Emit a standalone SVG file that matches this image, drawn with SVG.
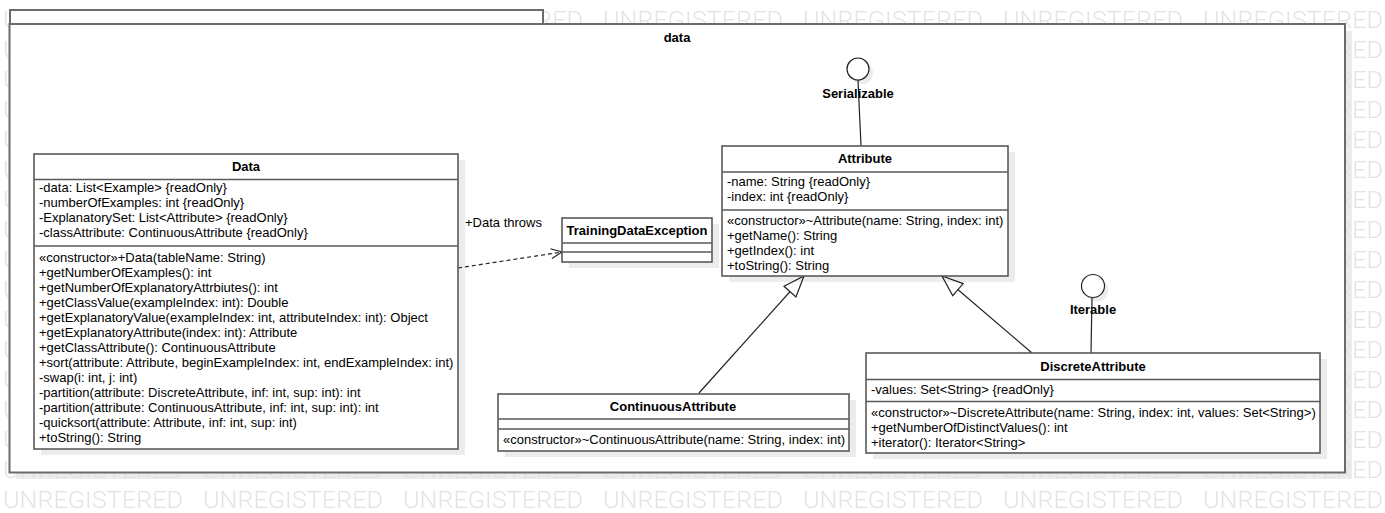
<svg xmlns="http://www.w3.org/2000/svg" width="1385" height="513" viewBox="0 0 1385 513">
<style>
  text { font-family: "Liberation Sans", Arial, sans-serif; fill: #000; }
  .t { font-size: 13px; }
  .b { font-size: 13px; font-weight: bold; text-anchor: middle; }
  .box { fill: #fff; stroke: #5a5a5a; stroke-width: 1.6; }
  .div { stroke: #5a5a5a; stroke-width: 1.6; }
  .sh { fill: #000; fill-opacity: 0.075; }
  .wm { font-family: "Roboto", "Liberation Sans", sans-serif; font-weight: 300; font-size: 23px; fill: #e3e3e3; }
  .conn { stroke: #222; stroke-width: 1.2; fill: none; }
</style>
<defs>
  <pattern id="wmp" patternUnits="userSpaceOnUse" x="0" y="0" width="200" height="30">
    <text class="wm" x="3" y="28" textLength="180" lengthAdjust="spacingAndGlyphs">UNREGISTERED</text>
  </pattern>
  <marker id="gen" markerUnits="userSpaceOnUse" markerWidth="24" markerHeight="20" viewBox="0 0 24 20" refX="22" refY="9" orient="auto">
    <path d="M1,1 L22,9 L1,17 Z" fill="#fff" stroke="#222" stroke-width="1.2"/>
  </marker>
  <marker id="open" markerUnits="userSpaceOnUse" markerWidth="14" markerHeight="12" viewBox="0 0 14 12" refX="12" refY="6" orient="auto">
    <path d="M1,1 L12,6 L1,11" fill="none" stroke="#222" stroke-width="1.2"/>
  </marker>
</defs>
<rect x="0" y="0" width="1385" height="513" fill="#fff"/>

<g id="package-data">
  <rect class="sh" x="16" y="31" width="1336" height="448"/>
  <rect x="0" y="0" width="1385" height="513" fill="url(#wmp)"/>
  <rect x="10" y="10" width="533" height="14" fill="#fff" stroke="#6b6b6b" stroke-width="2"/>
  <rect x="9.5" y="24" width="1335.5" height="448.5" fill="#fff" stroke="#6b6b6b" stroke-width="2"/>
  <text class="b" x="677" y="42">data</text>
</g>

<g id="connectors">
  <line class="conn" x1="858" y1="80" x2="861" y2="146"/>
  <line class="conn" x1="1092" y1="298" x2="1091" y2="353"/>
  <line class="conn" x1="699" y1="393" x2="804" y2="276" marker-end="url(#gen)"/>
  <line class="conn" x1="1032" y1="353" x2="942" y2="276" marker-end="url(#gen)"/>
  <line class="conn" x1="458" y1="268" x2="562" y2="252" stroke-dasharray="4,3" marker-end="url(#open)"/>
  <text class="t" x="465" y="227">+Data throws</text>
</g>

<g id="serializable">
  <circle cx="862" cy="73" r="11" fill="#000" fill-opacity="0.075"/>
  <circle cx="858" cy="69" r="11" fill="#fff" stroke="#222" stroke-width="1.2"/>
  <text class="b" x="858" y="98">Serializable</text>
</g>

<g id="iterable">
  <circle cx="1097" cy="290" r="11.5" fill="#000" fill-opacity="0.075"/>
  <circle cx="1093" cy="286" r="11.5" fill="#fff" stroke="#222" stroke-width="1.2"/>
  <text class="b" x="1093" y="314">Iterable</text>
</g>

<g id="Data">
  <rect class="sh" x="41" y="160" width="424" height="295"/>
  <rect class="box" x="34" y="154" width="424" height="295"/>
  <line class="div" x1="34" y1="179.5" x2="458" y2="179.5"/>
  <line class="div" x1="34" y1="246" x2="458" y2="246"/>
  <text class="b" x="246" y="171">Data</text>
  <text class="t" x="39" y="192">-data: List&lt;Example&gt; {readOnly}</text>
  <text class="t" x="39" y="207">-numberOfExamples: int {readOnly}</text>
  <text class="t" x="39" y="222">-ExplanatorySet: List&lt;Attribute&gt; {readOnly}</text>
  <text class="t" x="39" y="237">-classAttribute: ContinuousAttribute {readOnly}</text>
  <text class="t" x="39" y="262">«constructor»+Data(tableName: String)</text>
  <text class="t" x="39" y="277">+getNumberOfExamples(): int</text>
  <text class="t" x="39" y="292">+getNumberOfExplanatoryAttrbiutes(): int</text>
  <text class="t" x="39" y="307">+getClassValue(exampleIndex: int): Double</text>
  <text class="t" x="39" y="322">+getExplanatoryValue(exampleIndex: int, attributeIndex: int): Object</text>
  <text class="t" x="39" y="337">+getExplanatoryAttribute(index: int): Attribute</text>
  <text class="t" x="39" y="352">+getClassAttribute(): ContinuousAttribute</text>
  <text class="t" x="39" y="367">+sort(attribute: Attribute, beginExampleIndex: int, endExampleIndex: int)</text>
  <text class="t" x="39" y="382">-swap(i: int, j: int)</text>
  <text class="t" x="39" y="397">-partition(attribute: DiscreteAttribute, inf: int, sup: int): int</text>
  <text class="t" x="39" y="412">-partition(attribute: ContinuousAttribute, inf: int, sup: int): int</text>
  <text class="t" x="39" y="427">-quicksort(attribute: Attribute, inf: int, sup: int)</text>
  <text class="t" x="39" y="442">+toString(): String</text>
</g>

<g id="TrainingDataException">
  <rect class="sh" x="569" y="224" width="150" height="44"/>
  <rect class="box" x="562" y="218" width="150" height="44"/>
  <line class="div" x1="562" y1="243" x2="712" y2="243"/>
  <line class="div" x1="562" y1="252" x2="712" y2="252"/>
  <text class="b" x="637" y="235">TrainingDataException</text>
</g>

<g id="Attribute">
  <rect class="sh" x="729" y="152" width="286" height="130"/>
  <rect class="box" x="722" y="146" width="286" height="130"/>
  <line class="div" x1="722" y1="172" x2="1008" y2="172"/>
  <line class="div" x1="722" y1="210" x2="1008" y2="210"/>
  <text class="b" x="865" y="163">Attribute</text>
  <text class="t" x="727" y="186">-name: String {readOnly}</text>
  <text class="t" x="727" y="201">-index: int {readOnly}</text>
  <text class="t" x="727" y="225">«constructor»~Attribute(name: String, index: int)</text>
  <text class="t" x="727" y="240">+getName(): String</text>
  <text class="t" x="727" y="255">+getIndex(): int</text>
  <text class="t" x="727" y="270">+toString(): String</text>
</g>

<g id="ContinuousAttribute">
  <rect class="sh" x="505" y="400" width="351" height="57"/>
  <rect class="box" x="498" y="394" width="351" height="57"/>
  <line class="div" x1="498" y1="419" x2="849" y2="419"/>
  <line class="div" x1="498" y1="429" x2="849" y2="429"/>
  <text class="b" x="673" y="411">ContinuousAttribute</text>
  <text class="t" x="503" y="444">«constructor»~ContinuousAttribute(name: String, index: int)</text>
</g>

<g id="DiscreteAttribute">
  <rect class="sh" x="873" y="359" width="454" height="100"/>
  <rect class="box" x="866" y="353" width="454" height="100"/>
  <line class="div" x1="866" y1="379.5" x2="1320" y2="379.5"/>
  <line class="div" x1="866" y1="401.5" x2="1320" y2="401.5"/>
  <text class="b" x="1093" y="371">DiscreteAttribute</text>
  <text class="t" x="871" y="394">-values: Set&lt;String&gt; {readOnly}</text>
  <text class="t" x="871" y="417">«constructor»~DiscreteAttribute(name: String, index: int, values: Set&lt;String&gt;)</text>
  <text class="t" x="871" y="432">+getNumberOfDistinctValues(): int</text>
  <text class="t" x="871" y="447">+iterator(): Iterator&lt;String&gt;</text>
</g>
</svg>
